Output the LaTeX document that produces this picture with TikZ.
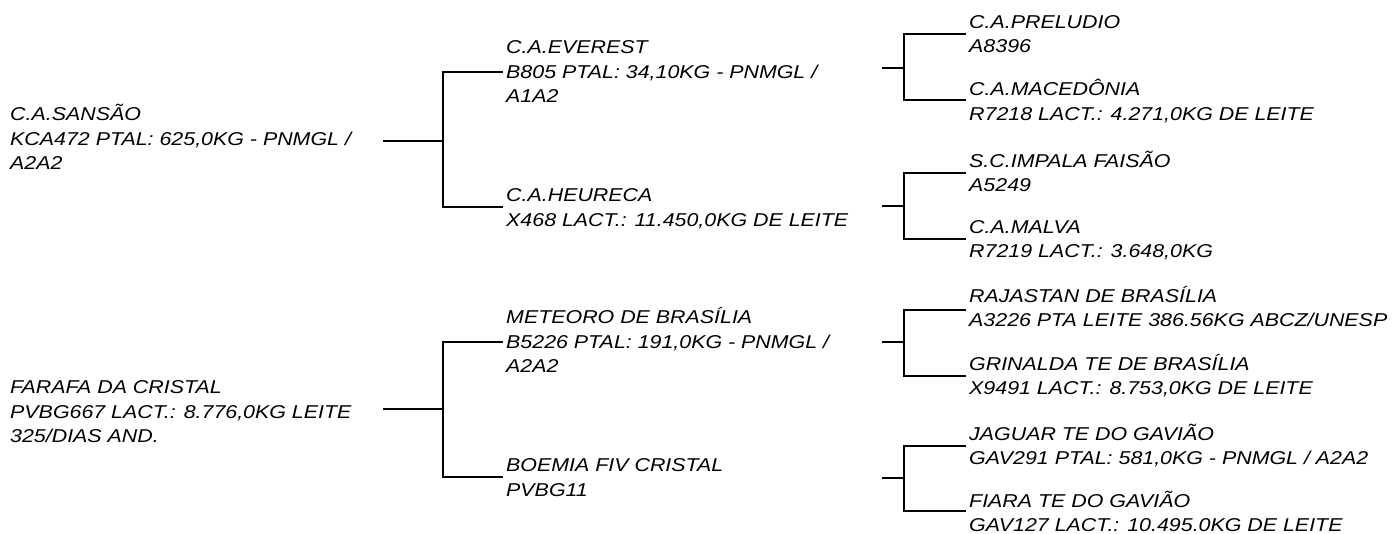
\documentclass[tikz,border=0pt]{standalone}
\usepackage{fontspec}
\newfontfamily\pedfont{Liberation Sans}[FakeStretch=1.15]
\usepackage{tikz}
\usetikzlibrary{calc}

\begin{document}
\begin{tikzpicture}[
  x=1pt, y=-1pt,
  anim/.style = {anchor=base west, inner sep=0pt, align=left,
                 font=\pedfont\itshape\fontsize{18.6}{24.5}\selectfont},
  ped/.style  = {line width=2.8pt},
]
\useasboundingbox (0,0) rectangle (1393,534);

% ── Animal (placed at baseline of last line) ──────────────────────────────────
\node[anim] (sansao) at (10,170) {C.A.SANSÃO\\KCA472 PTAL: 625,0KG - PNMGL /\\A2A2};
\node[anim] (farafa) at (10,443) {FARAFA DA CRISTAL\\PVBG667 LACT.: 8.776,0KG LEITE\\325/DIAS AND.};

% ── Parents ───────────────────────────────────────────────────────────────────
\node[anim] (everest) at (506,103)   {C.A.EVEREST\\B805 PTAL: 34,10KG - PNMGL /\\A1A2};
\node[anim] (heureca) at (506,226.5) {C.A.HEURECA\\X468 LACT.: 11.450,0KG DE LEITE};
\node[anim] (meteoro) at (506,373)   {METEORO DE BRASÍLIA\\B5226 PTAL: 191,0KG - PNMGL /\\A2A2};
\node[anim] (boemia)  at (506,496.5) {BOEMIA FIV CRISTAL\\PVBG11};

% ── Grandparents ──────────────────────────────────────────────────────────────
\node[anim] (preludio)  at (969,53)    {C.A.PRELUDIO\\A8396};
\node[anim] (macedonia) at (969,120.5) {C.A.MACEDÔNIA\\R7218 LACT.: 4.271,0KG DE LEITE};
\node[anim] (impala)    at (969,192)   {S.C.IMPALA FAISÃO\\A5249};
\node[anim] (malva)     at (969,258)   {C.A.MALVA\\R7219 LACT.: 3.648,0KG};
\node[anim] (rajastan)  at (969,327)   {RAJASTAN DE BRASÍLIA\\A3226 PTA LEITE 386.56KG ABCZ/UNESP};
\node[anim] (grinalda)  at (969,395)   {GRINALDA TE DE BRASÍLIA\\X9491 LACT.: 8.753,0KG DE LEITE};
\node[anim] (jaguar)    at (969,465)   {JAGUAR TE DO GAVIÃO\\GAV291 PTAL: 581,0KG - PNMGL / A2A2};
\node[anim] (fiara)     at (969,531.5) {FIARA TE DO GAVIÃO\\GAV127 LACT.: 10.495.0KG DE LEITE};

% ── Bracket points ────────────────────────────────────────────────────────────
\coordinate (sansao-s)  at (383,141);  \coordinate (sansao-j)  at (443,141);
\coordinate (farafa-s)  at (383,409);  \coordinate (farafa-j)  at (443,409);
\coordinate (everest-b) at (503,72);   \coordinate (heureca-b) at (503,207);
\coordinate (meteoro-b) at (503,342);  \coordinate (boemia-b)  at (503,477);

\coordinate (everest-s) at (882,68);   \coordinate (everest-j) at (904,68);
\coordinate (heureca-s) at (882,206);  \coordinate (heureca-j) at (904,206);
\coordinate (meteoro-s) at (882,342);  \coordinate (meteoro-j) at (904,342);
\coordinate (boemia-s)  at (882,478);  \coordinate (boemia-j)  at (904,478);

\coordinate (preludio-b)  at (966,34);  \coordinate (macedonia-b) at (966,100);
\coordinate (impala-b)    at (966,173); \coordinate (malva-b)     at (966,239);
\coordinate (rajastan-b)  at (966,310); \coordinate (grinalda-b)  at (966,376);
\coordinate (jaguar-b)    at (966,446); \coordinate (fiara-b)     at (966,511);

% ── Brackets ──────────────────────────────────────────────────────────────────
\draw[ped] (sansao-s) -- (sansao-j);
\draw[ped] (everest-b) -| (sansao-j) |- (heureca-b);
\draw[ped] (farafa-s) -- (farafa-j);
\draw[ped] (meteoro-b) -| (farafa-j) |- (boemia-b);

\draw[ped] (everest-s) -- (everest-j);
\draw[ped] (preludio-b) -| (everest-j) |- (macedonia-b);
\draw[ped] (heureca-s) -- (heureca-j);
\draw[ped] (impala-b) -| (heureca-j) |- (malva-b);
\draw[ped] (meteoro-s) -- (meteoro-j);
\draw[ped] (rajastan-b) -| (meteoro-j) |- (grinalda-b);
\draw[ped] (boemia-s) -- (boemia-j);
\draw[ped] (jaguar-b) -| (boemia-j) |- (fiara-b);

\end{tikzpicture}
\end{document}
